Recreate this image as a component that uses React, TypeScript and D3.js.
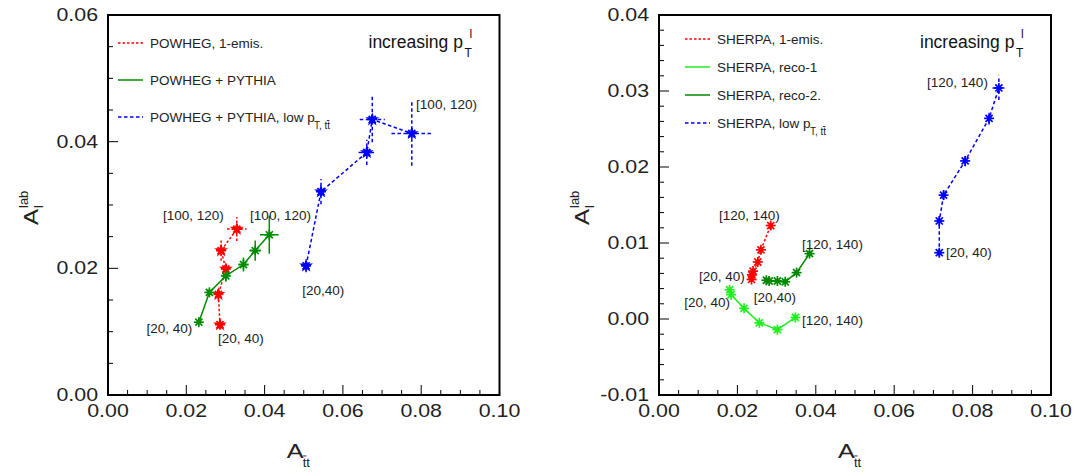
import React from 'react';
import * as d3 from 'd3';

// ---------- LEFT PANEL DATA (POWHEG) ----------
const lRedX = [0.0286, 0.0282, 0.0301, 0.0289, 0.0329];
const lRedY = [0.0111, 0.0159, 0.0199, 0.0228, 0.0262];
const lRedXe = [0.0004, 0.0004, 0.0005, 0.0012, 0.0025];
const lRedYe = [0.0006, 0.0010, 0.0008, 0.0016, 0.0019];

const lGreenX = [0.0232, 0.0259, 0.0301, 0.0346, 0.0376, 0.0412];
const lGreenY = [0.0115, 0.0162, 0.0188, 0.0206, 0.0228, 0.0253];
const lGreenXe = [0.0004, 0.0005, 0.0006, 0.0013, 0.0015, 0.0024];
const lGreenYe = [0.0004, 0.0005, 0.0009, 0.0011, 0.0016, 0.0030];

const lBlueX = [0.0506, 0.0544, 0.0661, 0.0675, 0.0776];
const lBlueY = [0.0204, 0.0321, 0.0383, 0.0435, 0.0413];
const lBlueXe = [0.0004, 0.0008, 0.0021, 0.0032, 0.0052];
const lBlueYe = [0.0010, 0.0020, 0.0020, 0.0036, 0.0051];

// ---------- RIGHT PANEL DATA (SHERPA) ----------
const rRedX = [0.0236, 0.0237, 0.0240, 0.0252, 0.0260, 0.0285];
const rRedY = [0.0052, 0.0058, 0.0063, 0.0075, 0.0091, 0.0123];
const rRedXe = [0.0003, 0.0003, 0.0003, 0.0004, 0.0004, 0.0005];
const rRedYe = [0.0003, 0.0003, 0.0003, 0.0004, 0.0005, 0.0006];

const rLimeX = [0.0180, 0.0184, 0.0217, 0.0256, 0.0302, 0.0348];
const rLimeY = [0.00385, 0.0032, 0.0014, -0.0005, -0.0014, 0.0002];
const rLimeXe = [0.0003, 0.0003, 0.0003, 0.0004, 0.0004, 0.0004];
const rLimeYe = [0.0003, 0.0003, 0.0003, 0.0003, 0.0004, 0.0004];

const rDarkX = [0.0274, 0.0281, 0.0302, 0.0322, 0.0351, 0.0384];
const rDarkY = [0.0051, 0.0050, 0.0050, 0.0049, 0.0061, 0.0086];
const rDarkXe = [0.0003, 0.0003, 0.0003, 0.0003, 0.0004, 0.0004];
const rDarkYe = [0.0002, 0.0002, 0.0002, 0.0003, 0.0003, 0.0004];

const rBlueX = [0.0715, 0.0715, 0.0726, 0.0781, 0.0842, 0.0867];
const rBlueY = [0.00872, 0.0129, 0.0163, 0.0208, 0.0264, 0.0304];
const rBlueXe = [0.0003, 0.0004, 0.0004, 0.0005, 0.0005, 0.0016];
const rBlueYe = [0.0005, 0.0006, 0.0006, 0.0007, 0.0008, 0.0016];

// ---------- TICKS ----------
const xMajorTicks = [0.0, 0.02, 0.04, 0.06, 0.08, 0.1];
const xTickLabels = ['0.00', '0.02', '0.04', '0.06', '0.08', '0.10'];
const lYMajorTicks = [0.0, 0.02, 0.04, 0.06];
const lYTickLabels = ['0.00', '0.02', '0.04', '0.06'];
const rYMajorTicks = [-0.01, 0.0, 0.01, 0.02, 0.03, 0.04];
const rYTickLabels = ['-0.01', '0.00', '0.01', '0.02', '0.03', '0.04'];

// ---------- LEGENDS ----------
const lLegendNames = ['POWHEG, 1-emis.', 'POWHEG + PYTHIA', 'POWHEG + PYTHIA, low p'];
const rLegendNames = ['SHERPA, 1-emis.', 'SHERPA, reco-1', 'SHERPA, reco-2.', 'SHERPA, low p'];

// ---------- ANNOTATIONS (data coords) ----------
const lLabels = [
  { t: '[20, 40)', x: 0.0215, y: 0.0106, a: 'end' },
  { t: '[20, 40)', x: 0.0281, y: 0.0090, a: 'start' },
  { t: '[100, 120)', x: 0.01405, y: 0.0284, a: 'start' },
  { t: '[100, 120)', x: 0.0363, y: 0.0284, a: 'start' },
  { t: '[20,40)', x: 0.0496, y: 0.0166, a: 'start' },
  { t: '[100, 120)', x: 0.0787, y: 0.0460, a: 'start' },
];
const rLabels = [
  { t: '[120, 140)', x: 0.0839, y: 0.0312, a: 'end' },
  { t: '[20, 40)', x: 0.0732, y: 0.0088, a: 'start' },
  { t: '[120, 140)', x: 0.0153, y: 0.0137, a: 'start' },
  { t: '[20, 40)', x: 0.0219, y: 0.0057, a: 'end' },
  { t: '[120, 140)', x: 0.0365, y: 0.0099, a: 'start' },
  { t: '[20,40)', x: 0.0242, y: 0.0029, a: 'start' },
  { t: '[20, 40)', x: 0.0181, y: 0.0022, a: 'end' },
  { t: '[120, 140)', x: 0.0365, y: -0.0001, a: 'start' },
];

const FONT = "'Liberation Sans', Arial, Helvetica, sans-serif";

type S = { x: number[]; y: number[]; xe: number[]; ye: number[]; color: string; dash: string; star: boolean };

const Marker = ({ cx, cy, color, star }: any) => {
  const r = 5;
  const arms = [0, 45, 90, 135].map((a) => {
    const rad = (a * Math.PI) / 180;
    return (
      <line key={a} x1={cx - r * Math.cos(rad)} y1={cy - r * Math.sin(rad)} x2={cx + r * Math.cos(rad)} y2={cy + r * Math.sin(rad)} stroke={color} strokeWidth={1.7} />
    );
  });
  const p = d3.symbol(d3.symbolStar, 60)();
  return (
    <g>
      {star ? <path d={p as string} transform={`translate(${cx},${cy})`} fill={color} /> : <circle cx={cx} cy={cy} r={2.4} fill={color} />}
      {arms}
    </g>
  );
};

// "t-bar t" subscript drawn as text with an explicit bar over the first t
const TTbar = ({ x, y, size, prefix }: any) => {
  const pw = prefix ? prefix.length * size * 0.42 : 0;
  return (
    <g>
      <text x={x} y={y} fontSize={size} fill="#222">{(prefix || '') + 'tt'}</text>
      <line x1={x + pw + 0.3} x2={x + pw + size * 0.28} y1={y - size * 0.85} y2={y - size * 0.85} stroke="#222" strokeWidth={0.9} />
    </g>
  );
};

const Panel = ({ x0, x1, yDomain, yTicks, yLabels, yMinorStep, series, legend, labels, legendY0, legendDy, legendX }: any) => {
  const top = 15, bottom = 395;
  const xs = d3.scaleLinear().domain([0, 0.1]).range([x0, x1]);
  const ys = d3.scaleLinear().domain(yDomain).range([bottom, top]);
  const xMinor = d3.range(0, 0.1 + 1e-9, 0.005);
  const yMinor = d3.range(yDomain[0], yDomain[1] + 1e-9, yMinorStep);
  return (
    <g fontFamily={FONT}>
      <defs>
        <clipPath id={`clip${x0}`}>
          <rect x={x0} y={top} width={x1 - x0} height={bottom - top} />
        </clipPath>
      </defs>
      {/* series */}
      <g clipPath={`url(#clip${x0})`}>
        {series.map((s: S, i: number) => {
          const pts = s.x.map((v, k) => [xs(v), ys(s.y[k])] as [number, number]);
          return (
            <g key={i}>
              <path d={d3.line()(pts) as string} fill="none" stroke={s.color} strokeWidth={1.5} strokeDasharray={s.dash} />
              {s.x.map((v, k) => (
                <g key={k}>
                  <line x1={xs(v - s.xe[k])} x2={xs(v + s.xe[k])} y1={ys(s.y[k])} y2={ys(s.y[k])} stroke={s.color} strokeWidth={1.5} strokeDasharray={s.dash} />
                  <line x1={xs(v)} x2={xs(v)} y1={ys(s.y[k] - s.ye[k])} y2={ys(s.y[k] + s.ye[k])} stroke={s.color} strokeWidth={1.5} strokeDasharray={s.dash} />
                  <Marker cx={xs(v)} cy={ys(s.y[k])} color={s.color} star={s.star} />
                </g>
              ))}
            </g>
          );
        })}
      </g>
      {/* ticks */}
      {xMinor.map((t: number, i: number) => {
        const major = i % 4 === 0;
        return <line key={'xm' + i} x1={xs(t)} x2={xs(t)} y1={bottom} y2={bottom - (major ? 10 : 5)} stroke="#000" strokeWidth={1} />;
      })}
      {yMinor.map((t: number, i: number) => {
        const major = yTicks.some((m: number) => Math.abs(m - t) < 1e-9);
        return <line key={'ym' + i} x1={x0} x2={x0 + (major ? 10 : 5)} y1={ys(t)} y2={ys(t)} stroke="#000" strokeWidth={1} />;
      })}
      {/* frame */}
      <rect x={x0} y={top} width={x1 - x0} height={bottom - top} fill="none" stroke="#000" strokeWidth={2} />
      {/* tick labels */}
      {xMajorTicks.map((t, i) => (
        <text key={'xl' + i} transform={`translate(${xs(t)},${bottom + 22}) scale(1.22,1)`} textAnchor="middle" fontSize={17.5} fill="#222">
          {xTickLabels[i]}
        </text>
      ))}
      {yTicks.map((t: number, i: number) => (
        <text key={'yl' + i} transform={`translate(${x0 - 10},${ys(t) + 6}) scale(1.22,1)`} textAnchor="end" fontSize={17.5} fill="#222">
          {yLabels[i]}
        </text>
      ))}
      {/* x axis title */}
      <g transform={`translate(${(x0 + x1) / 2 - 17},${bottom + 63})`} fill="#222">
        <text transform="scale(1.2,1)" fontSize={21} textAnchor="start">A</text>
        <TTbar x={16} y={9} size={13} />
      </g>
      {/* y axis title */}
      <g transform={`translate(${x0 - 70},${(top + bottom) / 2 + 20}) rotate(-90)`} fill="#222">
        <text transform="scale(1.15,1)" fontSize={21}>A</text>
        <text x={17} y={-10} fontSize={13}>lab</text>
        <text x={17} y={5} fontSize={13}>l</text>
      </g>
      {/* increasing pT */}
      <g transform={`translate(${x1 - 131},${top + 33})`} fill="#111">
        <text fontSize={17.5}>increasing p</text>
        <text x={101} y={-10} fontSize={12}>l</text>
        <text x={96} y={9} fontSize={12}>T</text>
      </g>
      {/* legend */}
      {legend.map((l: any, i: number) => {
        const y = legendY0 + i * legendDy;
        return (
          <g key={'lg' + i}>
            <line x1={legendX} x2={legendX + 25} y1={y} y2={y} stroke={l.color} strokeWidth={1.5} strokeDasharray={l.dash} />
            <text x={legendX + 32} y={y + 5} fontSize={13.5} fill="#222">
              {l.name}
            </text>
            {l.sub && <TTbar x={legendX + 32 + l.subOff} y={y + 12} size={10} prefix="T, " />}
          </g>
        );
      })}
      {/* bin labels */}
      {labels.map((l: any, i: number) => (
        <text key={'bl' + i} x={xs(l.x)} y={ys(l.y) + 5} textAnchor={l.a} fontSize={13.5} fill="#222">
          {l.t}
        </text>
      ))}
    </g>
  );
};

export default function App() {
  const leftSeries: S[] = [
    { x: lRedX, y: lRedY, xe: lRedXe, ye: lRedYe, color: '#ff0000', dash: '2.5,2', star: true },
    { x: lGreenX, y: lGreenY, xe: lGreenXe, ye: lGreenYe, color: '#008c00', dash: '', star: false },
    { x: lBlueX, y: lBlueY, xe: lBlueXe, ye: lBlueYe, color: '#0000ff', dash: '3.5,2.5', star: true },
  ];
  const rightSeries: S[] = [
    { x: rRedX, y: rRedY, xe: rRedXe, ye: rRedYe, color: '#ff0000', dash: '2.5,2', star: false },
    { x: rLimeX, y: rLimeY, xe: rLimeXe, ye: rLimeYe, color: '#22ee22', dash: '', star: false },
    { x: rDarkX, y: rDarkY, xe: rDarkXe, ye: rDarkYe, color: '#008800', dash: '', star: false },
    { x: rBlueX, y: rBlueY, xe: rBlueXe, ye: rBlueYe, color: '#0000ff', dash: '3.5,2.5', star: false },
  ];
  const lLegend = [
    { name: lLegendNames[0], color: '#ff0000', dash: '2.5,2' },
    { name: lLegendNames[1], color: '#008c00', dash: '' },
    { name: lLegendNames[2], color: '#0000ff', dash: '3.5,2.5', sub: true, subOff: 164 },
  ];
  const rLegend = [
    { name: rLegendNames[0], color: '#ff0000', dash: '2.5,2' },
    { name: rLegendNames[1], color: '#22ee22', dash: '' },
    { name: rLegendNames[2], color: '#008800', dash: '' },
    { name: rLegendNames[3], color: '#0000ff', dash: '3.5,2.5', sub: true, subOff: 93 },
  ];
  return (
    <svg width={1076} height={473} style={{ position: 'absolute', left: 0, top: 0, background: '#fff' }}>
      <rect width={1076} height={473} fill="#fff" />
      <Panel x0={108} x1={499.5} yDomain={[0, 0.06]} yTicks={lYMajorTicks} yLabels={lYTickLabels} yMinorStep={0.005}
        series={leftSeries} legend={lLegend} labels={lLabels} legendY0={43} legendDy={37} legendX={118} />
      <Panel x0={659} x1={1051} yDomain={[-0.01, 0.04]} yTicks={rYMajorTicks} yLabels={rYTickLabels} yMinorStep={0.002}
        series={rightSeries} legend={rLegend} labels={rLabels} legendY0={39} legendDy={28} legendX={685} />
    </svg>
  );
}
